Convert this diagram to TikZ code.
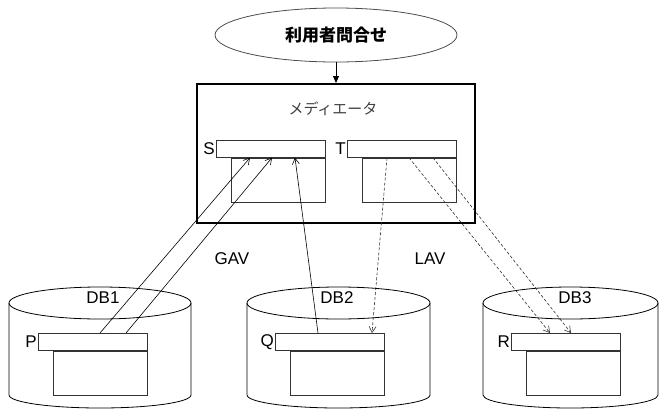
\documentclass[tikz,border=0pt]{standalone}
\usepackage{fontspec}
\setmainfont{Liberation Sans}
\newfontfamily\jp{Noto Sans CJK JP}
\usetikzlibrary{shapes.geometric,arrows.meta,calc}
\begin{document}
\begin{tikzpicture}[x=1pt,y=-1pt,
  every node/.style={font=\fontsize{17}{20}\selectfont},
  hdr/.style={draw=black!80,line width=0.7pt,minimum width=109pt,minimum height=17pt,inner sep=0pt,anchor=north west},
  bdy/.style={draw=black!80,line width=0.7pt,minimum width=94pt,minimum height=44pt,inner sep=0pt,anchor=north east},
  lbl/.style={anchor=east,inner sep=1pt},
  cyl/.style={draw=black,line width=0.8pt},
  gav/.style={draw=black,line width=0.6pt,-{Straight Barb[length=6pt,width=7pt]}},
  lav/.style={draw=black!80,line width=0.6pt,dash pattern=on 3pt off 2pt,-{Straight Barb[length=6pt,width=7pt]}}
]
\useasboundingbox (0,0) rectangle (659,410);
% query ellipse
\node[ellipse,draw=black!70,line width=0.8pt,minimum width=242pt,minimum height=54pt,inner sep=0pt,
      font=\jp\fontsize{17}{20}\selectfont\bfseries] (query) at (336,35) {利用者問合せ};
% mediator box
\node[draw=black,line width=2pt,minimum width=278pt,minimum height=139pt,inner sep=0pt] (med) at (336,153.5) {};
\node[font=\jp\fontsize{15}{18}\selectfont,text=black!75] (medlbl) at (333,109) {メディエータ};
\draw[line width=0.8pt,-{Triangle[length=7pt,width=6pt]}] (query.south) -- (med.north);
% tables in mediator
\node[hdr] (Sh) at (216,140) {};
\node[bdy] (Sb) at (Sh.south east) {};
\node[lbl] (Sl) at (Sh.west) {S};
\node[hdr] (Th) at (347,140) {};
\node[bdy] (Tb) at (Th.south east) {};
\node[lbl] (Tl) at (Th.west) {T};
% cylinders
\draw[cyl] (9,303) -- (9,395) arc[start angle=180,end angle=360,x radius=91pt,y radius=13pt] -- (191,303);
\draw[cyl] (100,303) ellipse[x radius=91pt,y radius=16pt];
\draw[cyl] (247,303) -- (247,395) arc[start angle=180,end angle=360,x radius=91.5pt,y radius=13pt] -- (430,303);
\draw[cyl] (338.5,303) ellipse[x radius=91.5pt,y radius=16pt];
\draw[cyl] (483,303) -- (483,395) arc[start angle=180,end angle=360,x radius=87.5pt,y radius=13pt] -- (658,303);
\draw[cyl] (570.5,303) ellipse[x radius=87.5pt,y radius=16pt];
\node (db1) at (103,298) {DB1};
\node (db2) at (337,298) {DB2};
\node (db3) at (575,298) {DB3};
% source tables
\node[hdr] (Ph) at (38,333) {};
\node[bdy] (Pb) at (Ph.south east) {};
\node[lbl] (Pl) at (Ph.west) {P};
\node[hdr] (Qh) at (275,333) {};
\node[bdy] (Qb) at (Qh.south east) {};
\node[lbl] (Ql) at (Qh.west) {Q};
\node[hdr] (Rh) at (511,333) {};
\node[bdy] (Rb) at (Rh.south east) {};
\node[lbl] (Rl) at (Rh.west) {R};
% labels
\node (gav) at (232,259) {GAV};
\node (lav) at (430,259) {LAV};
% GAV arrows
\draw[gav] ($(Ph.north west)+(62,0)$) -- ($(Sh.south west)+(34,0)$);
\draw[gav] ($(Ph.north west)+(88,0)$) -- ($(Sh.south west)+(56,0)$);
\draw[gav] ($(Qh.north west)+(43,0)$) -- ($(Sh.south west)+(79,0)$);
% LAV arrows
\draw[lav] ($(Th.south west)+(40,0)$) -- ($(Qh.north west)+(97,0)$);
\draw[lav] ($(Th.south west)+(62,0)$) -- ($(Rh.north west)+(39,0)$);
\draw[lav] ($(Th.south west)+(86,0)$) -- ($(Rh.north west)+(60,0)$);
\end{tikzpicture}
\end{document}
